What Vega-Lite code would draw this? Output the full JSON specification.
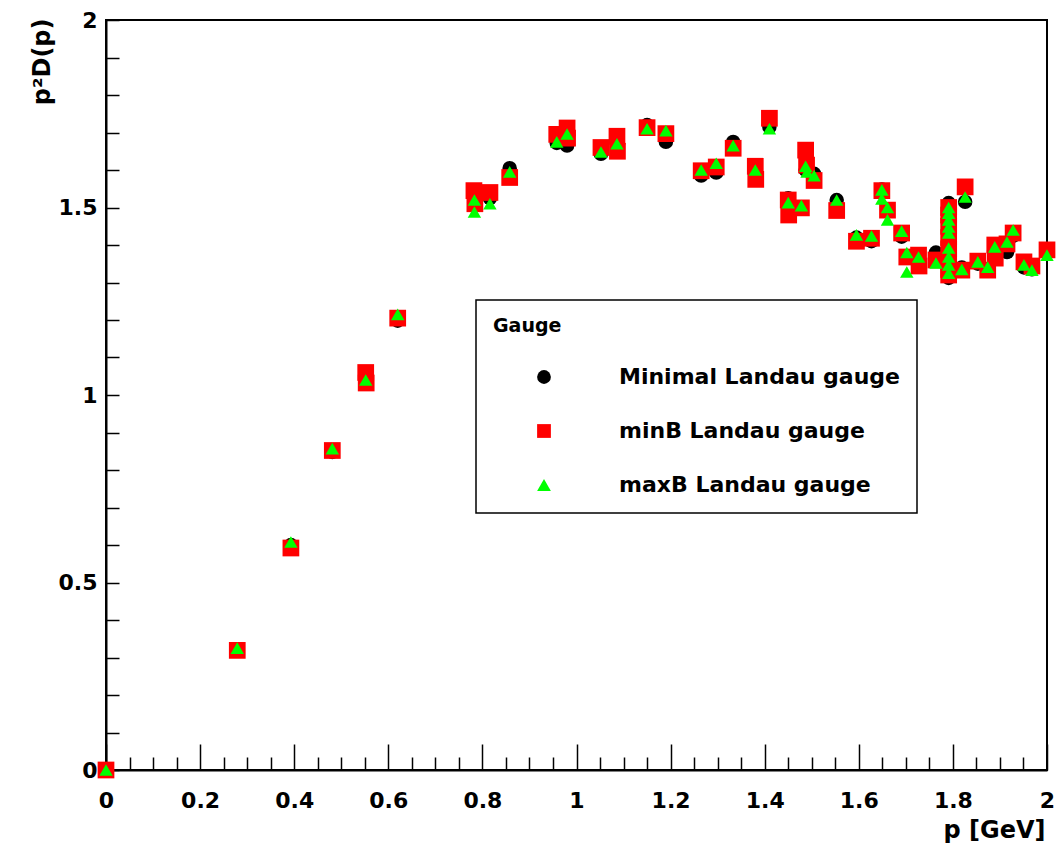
{
  "$schema": "https://vega.github.io/schema/vega-lite/v6.json",
  "width": 941,
  "height": 750,
  "autosize": {"type": "none"},
  "padding": {"left": 106, "top": 20, "right": 12, "bottom": 74},
  "background": "white",
  "config": {
    "view": {"stroke": "black", "strokeWidth": 2},
    "axis": {
      "labelFont": "DejaVu Sans", "labelFontWeight": "bold", "labelFontSize": 22, "labelColor": "black",
      "titleFont": "DejaVu Sans", "titleFontWeight": "bold", "titleFontSize": 24, "titleColor": "black",
      "domainColor": "black", "domainWidth": 2, "tickColor": "black", "tickWidth": 1.5, "grid": false,
      "labelFlush": false, "labelOverlap": false
    },
    "legend": {
      "padding": 17, "fillColor": "white", "strokeColor": "black", "strokeWidth": 1.5,
      "titleFont": "DejaVu Sans", "titleFontWeight": "bold", "titleFontSize": 19, "titleColor": "black", "titlePadding": 30,
      "labelFont": "DejaVu Sans", "labelFontWeight": "bold", "labelFontSize": 22, "labelColor": "black",
      "rowPadding": 32, "symbolOffset": 40, "labelOffset": 64, "symbolSize": 190, "symbolStrokeWidth": 0, "labelLimit": 900
    }
  },
  "data": {"values": [
    {"p":0,"d":0,"g":"Minimal Landau gauge"},{"p":0.279,"d":0.32,"g":"Minimal Landau gauge"},{"p":0.393,"d":0.6,"g":"Minimal Landau gauge"},{"p":0.481,"d":0.848,"g":"Minimal Landau gauge"},{"p":0.552,"d":1.045,"g":"Minimal Landau gauge"},{"p":0.62,"d":1.198,"g":"Minimal Landau gauge"},{"p":0.783,"d":1.505,"g":"Minimal Landau gauge"},{"p":0.816,"d":1.525,"g":"Minimal Landau gauge"},{"p":0.858,"d":1.605,"g":"Minimal Landau gauge"},{"p":0.958,"d":1.672,"g":"Minimal Landau gauge"},{"p":0.98,"d":1.665,"g":"Minimal Landau gauge"},{"p":1.052,"d":1.643,"g":"Minimal Landau gauge"},{"p":1.086,"d":1.672,"g":"Minimal Landau gauge"},{"p":1.15,"d":1.72,"g":"Minimal Landau gauge"},{"p":1.19,"d":1.675,"g":"Minimal Landau gauge"},{"p":1.265,"d":1.585,"g":"Minimal Landau gauge"},{"p":1.297,"d":1.593,"g":"Minimal Landau gauge"},{"p":1.333,"d":1.675,"g":"Minimal Landau gauge"},{"p":1.38,"d":1.595,"g":"Minimal Landau gauge"},{"p":1.41,"d":1.715,"g":"Minimal Landau gauge"},{"p":1.45,"d":1.525,"g":"Minimal Landau gauge"},{"p":1.478,"d":1.5,"g":"Minimal Landau gauge"},{"p":1.487,"d":1.6,"g":"Minimal Landau gauge"},{"p":1.505,"d":1.59,"g":"Minimal Landau gauge"},{"p":1.553,"d":1.52,"g":"Minimal Landau gauge"},{"p":1.595,"d":1.42,"g":"Minimal Landau gauge"},{"p":1.627,"d":1.41,"g":"Minimal Landau gauge"},{"p":1.649,"d":1.548,"g":"Minimal Landau gauge"},{"p":1.661,"d":1.49,"g":"Minimal Landau gauge"},{"p":1.691,"d":1.422,"g":"Minimal Landau gauge"},{"p":1.702,"d":1.37,"g":"Minimal Landau gauge"},{"p":1.727,"d":1.36,"g":"Minimal Landau gauge"},{"p":1.764,"d":1.38,"g":"Minimal Landau gauge"},{"p":1.791,"d":1.512,"g":"Minimal Landau gauge"},{"p":1.791,"d":1.44,"g":"Minimal Landau gauge"},{"p":1.791,"d":1.408,"g":"Minimal Landau gauge"},{"p":1.791,"d":1.33,"g":"Minimal Landau gauge"},{"p":1.791,"d":1.312,"g":"Minimal Landau gauge"},{"p":1.819,"d":1.34,"g":"Minimal Landau gauge"},{"p":1.826,"d":1.515,"g":"Minimal Landau gauge"},{"p":1.853,"d":1.35,"g":"Minimal Landau gauge"},{"p":1.874,"d":1.335,"g":"Minimal Landau gauge"},{"p":1.889,"d":1.379,"g":"Minimal Landau gauge"},{"p":1.915,"d":1.381,"g":"Minimal Landau gauge"},{"p":1.928,"d":1.425,"g":"Minimal Landau gauge"},{"p":1.951,"d":1.34,"g":"Minimal Landau gauge"},{"p":1.968,"d":1.335,"g":"Minimal Landau gauge"},{"p":2.0,"d":1.38,"g":"Minimal Landau gauge"},
    {"p":0,"d":0,"g":"minB Landau gauge"},{"p":0.279,"d":0.319,"g":"minB Landau gauge"},{"p":0.393,"d":0.592,"g":"minB Landau gauge"},{"p":0.481,"d":0.852,"g":"minB Landau gauge"},{"p":0.552,"d":1.06,"g":"minB Landau gauge"},{"p":0.553,"d":1.032,"g":"minB Landau gauge"},{"p":0.62,"d":1.205,"g":"minB Landau gauge"},{"p":0.782,"d":1.545,"g":"minB Landau gauge"},{"p":0.784,"d":1.51,"g":"minB Landau gauge"},{"p":0.816,"d":1.54,"g":"minB Landau gauge"},{"p":0.858,"d":1.58,"g":"minB Landau gauge"},{"p":0.958,"d":1.695,"g":"minB Landau gauge"},{"p":0.98,"d":1.712,"g":"minB Landau gauge"},{"p":0.981,"d":1.685,"g":"minB Landau gauge"},{"p":1.052,"d":1.66,"g":"minB Landau gauge"},{"p":1.086,"d":1.69,"g":"minB Landau gauge"},{"p":1.087,"d":1.65,"g":"minB Landau gauge"},{"p":1.15,"d":1.713,"g":"minB Landau gauge"},{"p":1.19,"d":1.697,"g":"minB Landau gauge"},{"p":1.265,"d":1.598,"g":"minB Landau gauge"},{"p":1.297,"d":1.608,"g":"minB Landau gauge"},{"p":1.333,"d":1.658,"g":"minB Landau gauge"},{"p":1.38,"d":1.61,"g":"minB Landau gauge"},{"p":1.381,"d":1.575,"g":"minB Landau gauge"},{"p":1.41,"d":1.738,"g":"minB Landau gauge"},{"p":1.45,"d":1.52,"g":"minB Landau gauge"},{"p":1.451,"d":1.48,"g":"minB Landau gauge"},{"p":1.478,"d":1.499,"g":"minB Landau gauge"},{"p":1.487,"d":1.653,"g":"minB Landau gauge"},{"p":1.489,"d":1.613,"g":"minB Landau gauge"},{"p":1.505,"d":1.572,"g":"minB Landau gauge"},{"p":1.553,"d":1.492,"g":"minB Landau gauge"},{"p":1.595,"d":1.41,"g":"minB Landau gauge"},{"p":1.627,"d":1.418,"g":"minB Landau gauge"},{"p":1.649,"d":1.545,"g":"minB Landau gauge"},{"p":1.661,"d":1.493,"g":"minB Landau gauge"},{"p":1.691,"d":1.432,"g":"minB Landau gauge"},{"p":1.702,"d":1.368,"g":"minB Landau gauge"},{"p":1.727,"d":1.373,"g":"minB Landau gauge"},{"p":1.728,"d":1.344,"g":"minB Landau gauge"},{"p":1.764,"d":1.36,"g":"minB Landau gauge"},{"p":1.791,"d":1.5,"g":"minB Landau gauge"},{"p":1.791,"d":1.48,"g":"minB Landau gauge"},{"p":1.791,"d":1.45,"g":"minB Landau gauge"},{"p":1.791,"d":1.42,"g":"minB Landau gauge"},{"p":1.791,"d":1.39,"g":"minB Landau gauge"},{"p":1.791,"d":1.36,"g":"minB Landau gauge"},{"p":1.791,"d":1.335,"g":"minB Landau gauge"},{"p":1.791,"d":1.32,"g":"minB Landau gauge"},{"p":1.819,"d":1.333,"g":"minB Landau gauge"},{"p":1.826,"d":1.555,"g":"minB Landau gauge"},{"p":1.853,"d":1.357,"g":"minB Landau gauge"},{"p":1.874,"d":1.333,"g":"minB Landau gauge"},{"p":1.889,"d":1.4,"g":"minB Landau gauge"},{"p":1.89,"d":1.365,"g":"minB Landau gauge"},{"p":1.915,"d":1.403,"g":"minB Landau gauge"},{"p":1.928,"d":1.432,"g":"minB Landau gauge"},{"p":1.951,"d":1.355,"g":"minB Landau gauge"},{"p":1.968,"d":1.344,"g":"minB Landau gauge"},{"p":2.0,"d":1.387,"g":"minB Landau gauge"},
    {"p":0,"d":0,"g":"maxB Landau gauge"},{"p":0.279,"d":0.325,"g":"maxB Landau gauge"},{"p":0.393,"d":0.608,"g":"maxB Landau gauge"},{"p":0.481,"d":0.857,"g":"maxB Landau gauge"},{"p":0.552,"d":1.04,"g":"maxB Landau gauge"},{"p":0.62,"d":1.215,"g":"maxB Landau gauge"},{"p":0.783,"d":1.52,"g":"maxB Landau gauge"},{"p":0.783,"d":1.488,"g":"maxB Landau gauge"},{"p":0.816,"d":1.51,"g":"maxB Landau gauge"},{"p":0.858,"d":1.595,"g":"maxB Landau gauge"},{"p":0.958,"d":1.675,"g":"maxB Landau gauge"},{"p":0.98,"d":1.696,"g":"maxB Landau gauge"},{"p":1.052,"d":1.648,"g":"maxB Landau gauge"},{"p":1.086,"d":1.67,"g":"maxB Landau gauge"},{"p":1.15,"d":1.71,"g":"maxB Landau gauge"},{"p":1.19,"d":1.705,"g":"maxB Landau gauge"},{"p":1.265,"d":1.6,"g":"maxB Landau gauge"},{"p":1.297,"d":1.618,"g":"maxB Landau gauge"},{"p":1.333,"d":1.665,"g":"maxB Landau gauge"},{"p":1.38,"d":1.6,"g":"maxB Landau gauge"},{"p":1.41,"d":1.71,"g":"maxB Landau gauge"},{"p":1.45,"d":1.513,"g":"maxB Landau gauge"},{"p":1.478,"d":1.505,"g":"maxB Landau gauge"},{"p":1.487,"d":1.61,"g":"maxB Landau gauge"},{"p":1.49,"d":1.595,"g":"maxB Landau gauge"},{"p":1.505,"d":1.585,"g":"maxB Landau gauge"},{"p":1.553,"d":1.52,"g":"maxB Landau gauge"},{"p":1.595,"d":1.427,"g":"maxB Landau gauge"},{"p":1.627,"d":1.424,"g":"maxB Landau gauge"},{"p":1.649,"d":1.547,"g":"maxB Landau gauge"},{"p":1.649,"d":1.523,"g":"maxB Landau gauge"},{"p":1.661,"d":1.5,"g":"maxB Landau gauge"},{"p":1.661,"d":1.467,"g":"maxB Landau gauge"},{"p":1.691,"d":1.437,"g":"maxB Landau gauge"},{"p":1.702,"d":1.38,"g":"maxB Landau gauge"},{"p":1.702,"d":1.328,"g":"maxB Landau gauge"},{"p":1.727,"d":1.368,"g":"maxB Landau gauge"},{"p":1.764,"d":1.352,"g":"maxB Landau gauge"},{"p":1.791,"d":1.5,"g":"maxB Landau gauge"},{"p":1.791,"d":1.485,"g":"maxB Landau gauge"},{"p":1.791,"d":1.467,"g":"maxB Landau gauge"},{"p":1.791,"d":1.448,"g":"maxB Landau gauge"},{"p":1.791,"d":1.432,"g":"maxB Landau gauge"},{"p":1.791,"d":1.392,"g":"maxB Landau gauge"},{"p":1.791,"d":1.368,"g":"maxB Landau gauge"},{"p":1.791,"d":1.347,"g":"maxB Landau gauge"},{"p":1.791,"d":1.325,"g":"maxB Landau gauge"},{"p":1.819,"d":1.335,"g":"maxB Landau gauge"},{"p":1.826,"d":1.528,"g":"maxB Landau gauge"},{"p":1.853,"d":1.355,"g":"maxB Landau gauge"},{"p":1.874,"d":1.341,"g":"maxB Landau gauge"},{"p":1.889,"d":1.395,"g":"maxB Landau gauge"},{"p":1.915,"d":1.408,"g":"maxB Landau gauge"},{"p":1.928,"d":1.44,"g":"maxB Landau gauge"},{"p":1.951,"d":1.347,"g":"maxB Landau gauge"},{"p":1.968,"d":1.333,"g":"maxB Landau gauge"},{"p":2.0,"d":1.373,"g":"maxB Landau gauge"}
  ]},
  "resolve": {"axis": {"x": "independent", "y": "independent"}},
  "layer": [
    {
      "mark": {"type": "point", "opacity": 0},
      "encoding": {
        "x": {"field": "p", "type": "quantitative", "scale": {"domain": [0, 2], "nice": false, "zero": false},
          "axis": {"orient": "bottom", "values": [0.05,0.1,0.15,0.25,0.3,0.35,0.45,0.5,0.55,0.65,0.7,0.75,0.85,0.9,0.95,1.05,1.1,1.15,1.25,1.3,1.35,1.45,1.5,1.55,1.65,1.7,1.75,1.85,1.9,1.95],
            "tickSize": -13, "labels": false, "domain": false, "title": null}}
      }
    },
    {
      "transform": [{"filter": "datum.g == 'Minimal Landau gauge'"}],
      "mark": {"type": "point", "filled": true, "opacity": 1, "size": 210, "strokeWidth": 0},
      "encoding": {
        "x": {"field": "p", "type": "quantitative", "scale": {"domain": [0, 2], "nice": false, "zero": false},
          "axis": {"orient": "bottom", "values": [0,0.2,0.4,0.6,0.8,1,1.2,1.4,1.6,1.8,2], "format": "~g", "tickSize": -26, "labelPadding": 46,
            "title": "p [GeV]", "titleX": 939, "titleY": 60, "titleAlign": "right", "titleBaseline": "middle"}},
        "y": {"field": "d", "type": "quantitative", "scale": {"domain": [0, 2], "nice": false},
          "axis": {"orient": "left", "values": [0,0.1,0.2,0.3,0.4,0.5,0.6,0.7,0.8,0.9,1,1.1,1.2,1.3,1.4,1.5,1.6,1.7,1.8,1.9,2],
            "labelExpr": "datum.value % 0.5 == 0 ? format(datum.value, '~g') : ''", "tickSize": -13, "labelPadding": 22,
            "title": "p²D(p)", "titleX": -64, "titleY": -2, "titleAngle": 270, "titleAlign": "right", "titleBaseline": "middle"}},
        "color": {"field": "g", "type": "nominal", "scale": {"domain": ["Minimal Landau gauge", "minB Landau gauge", "maxB Landau gauge"], "range": ["#000000", "#ff0000", "#00ff00"]},
          "legend": {"title": "Gauge", "orient": "none", "legendX": 370, "legendY": 280}},
        "shape": {"field": "g", "type": "nominal", "scale": {"domain": ["Minimal Landau gauge", "minB Landau gauge", "maxB Landau gauge"], "range": ["circle", "square", "triangle-up"]},
          "legend": {"title": "Gauge", "orient": "none", "legendX": 370, "legendY": 280}}
      }
    },
    {
      "transform": [{"filter": "datum.g == 'minB Landau gauge'"}],
      "mark": {"type": "point", "filled": true, "opacity": 1, "size": 280, "strokeWidth": 0},
      "encoding": {
        "x": {"field": "p", "type": "quantitative", "scale": {"domain": [0, 2], "nice": false, "zero": false}, "axis": null},
        "y": {"field": "d", "type": "quantitative", "scale": {"domain": [0, 2], "nice": false}, "axis": null},
        "color": {"field": "g", "type": "nominal", "legend": {"title": "Gauge", "orient": "none", "legendX": 370, "legendY": 280}},
        "shape": {"field": "g", "type": "nominal", "legend": {"title": "Gauge", "orient": "none", "legendX": 370, "legendY": 280}}
      }
    },
    {
      "transform": [{"filter": "datum.g == 'maxB Landau gauge'"}],
      "mark": {"type": "point", "filled": true, "opacity": 1, "size": 180, "strokeWidth": 0},
      "encoding": {
        "x": {"field": "p", "type": "quantitative", "scale": {"domain": [0, 2], "nice": false, "zero": false}, "axis": null},
        "y": {"field": "d", "type": "quantitative", "scale": {"domain": [0, 2], "nice": false}, "axis": null},
        "color": {"field": "g", "type": "nominal", "legend": {"title": "Gauge", "orient": "none", "legendX": 370, "legendY": 280}},
        "shape": {"field": "g", "type": "nominal", "legend": {"title": "Gauge", "orient": "none", "legendX": 370, "legendY": 280}}
      }
    }
  ]
}
